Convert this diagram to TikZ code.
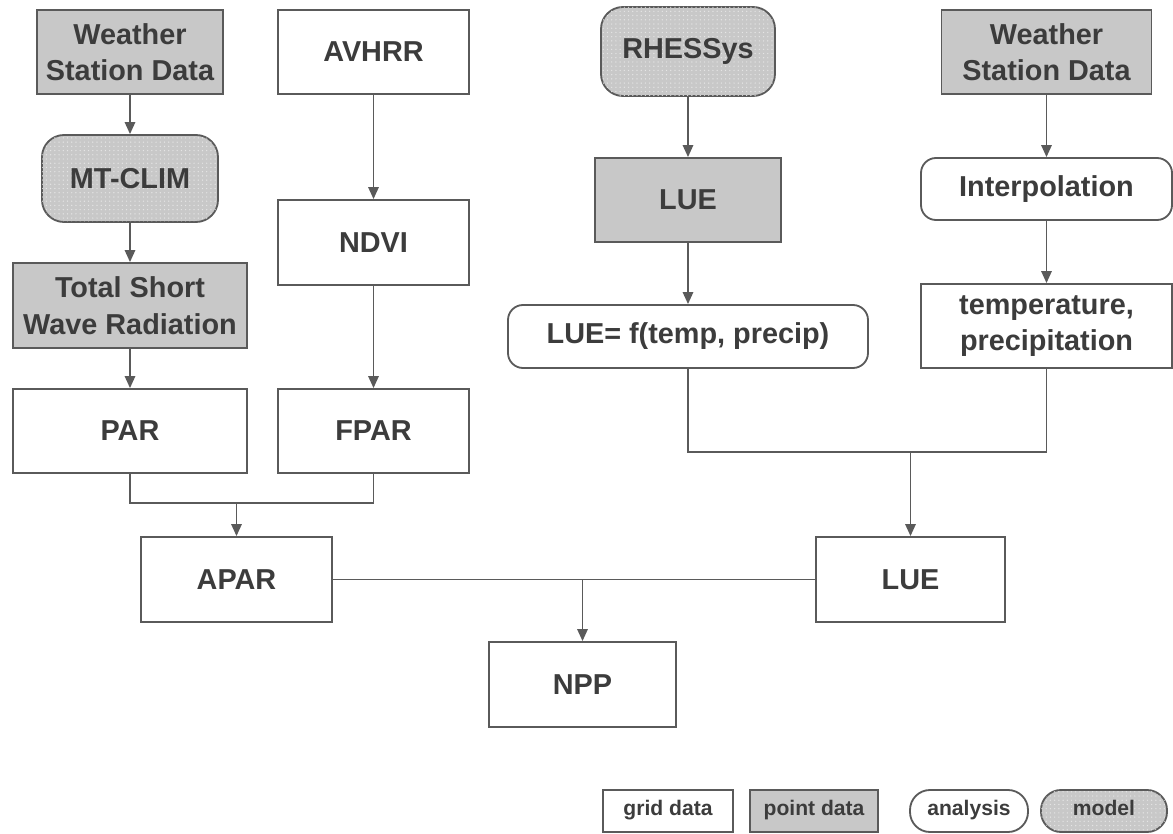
\documentclass[tikz,border=0pt]{standalone}
\usepackage{fontspec}
\setmainfont{Liberation Sans}
\usetikzlibrary{arrows.meta,patterns}

\definecolor{boxline}{HTML}{5A5A5A}
\definecolor{boxtext}{HTML}{3C3C3C}
\definecolor{pointfill}{HTML}{C8C8C8}

\begin{document}
\begin{tikzpicture}[x=0.025cm, y=-0.025cm,
    base/.style={draw=boxline, line width=1.3pt, text=boxtext, inner sep=0pt, align=center,
        font=\fontsize{20.5}{26}\selectfont\bfseries},
    sz/.style 2 args={minimum width=#1*0.025cm, minimum height=#2*0.025cm},
    griddata/.style={base, fill=white},
    pointdata/.style={base, fill=pointfill},
    analysis/.style={base, fill=white, rounded corners=0.375cm},
    model/.style={base, fill=pointfill, rounded corners=0.55cm,
        postaction={pattern=dots, pattern color=gray!20}},
    small/.style={font=\fontsize{15}{18}\selectfont\bfseries, text height=1.6ex, text depth=0.4ex},
    link/.style={draw=boxline, line width=1.3pt},
    arr/.style={link, -{Triangle[length=0.3cm, width=0.26cm]}}]

    \useasboundingbox (0,0) rectangle (1173,834);

    % Radiation side
    \node[pointdata, sz={186}{84}] (ws1) at (130,52) {Weather\\Station Data};
    \node[model, sz={176}{87}] (mtclim) at (130,178.5) {MT-CLIM};
    \node[pointdata, sz={234}{85}] (tswr) at (130,305.5) {Total Short\\Wave Radiation};
    \node[griddata, sz={234}{84}] (par) at (130,431) {PAR};

    % Satellite side
    \node[griddata, sz={191}{84}] (avhrr) at (373.5,52) {AVHRR};
    \node[griddata, sz={191}{85}] (ndvi) at (373.5,242.5) {NDVI};
    \node[griddata, sz={191}{84}] (fpar) at (373.5,431) {FPAR};

    % Light use efficiency
    \node[model, sz={174}{89}] (rhessys) at (688,51.5) {RHESSys};
    \node[pointdata, sz={186}{84}] (lueA) at (688,200) {LUE};
    \node[analysis, sz={360}{63}] (luef) at (688,336.5) {LUE= f(temp, precip)};

    % Climate interpolation
    \node[pointdata, sz={210}{84}] (ws2) at (1046.5,52) {Weather\\Station Data};
    \node[analysis, sz={251}{62}] (interp) at (1046.5,189) {Interpolation};
    \node[griddata, sz={251}{84}] (temp) at (1046.5,326) {temperature,\\precipitation};

    % Combined products
    \node[griddata, sz={191}{85}] (apar) at (236.5,579.5) {APAR};
    \node[griddata, sz={189}{85}] (lueB) at (910.5,579.5) {LUE};
    \node[griddata, sz={187}{85}] (npp) at (582.5,684.5) {NPP};

    % Vertical flows
    \draw[arr] (ws1) -- (mtclim);
    \draw[arr] (mtclim) -- (tswr);
    \draw[arr] (tswr) -- (par);
    \draw[arr] (avhrr) -- (ndvi);
    \draw[arr] (ndvi) -- (fpar);
    \draw[arr] (rhessys) -- (lueA);
    \draw[arr] (lueA) -- (luef);
    \draw[arr] (ws2) -- (interp);
    \draw[arr] (interp) -- (temp);

    % Joins
    \coordinate (joinL) at (236.5,503);
    \draw[link] (par.south) |- (joinL) -| (fpar.south);
    \draw[arr] (joinL) -- (apar);
    \coordinate (joinR) at (910.5,452);
    \draw[link] (luef.south) |- (joinR) -| (temp.south);
    \draw[arr] (joinR) -- (lueB);
    \draw[link] (apar) -- (lueB);
    \coordinate (joinB) at (582.5,579.5);
    \draw[arr] (joinB) -- (npp);

    % Legend
    \node[griddata, small, sz={130}{42}] (lgrid) at (668,811) {grid data};
    \node[pointdata, small, sz={128}{42}] (lpoint) at (814,811) {point data};
    \node[analysis, small, rounded corners=0.5cm, sz={118}{42}] (lanalysis) at (969,811) {analysis};
    \node[model, small, rounded corners=0.5cm, sz={126}{42}] (lmodel) at (1104,811) {model};
\end{tikzpicture}
\end{document}
